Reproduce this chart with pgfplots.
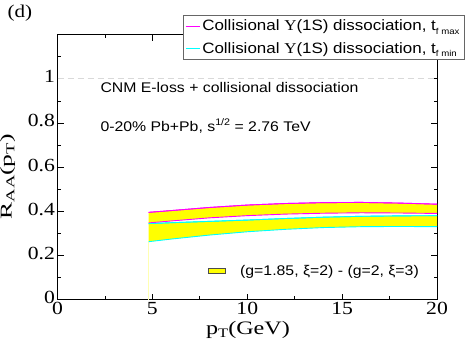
\documentclass[border=0pt]{standalone}
\usepackage{pgfplots}
\pgfplotsset{compat=1.18}
\usepgfplotslibrary{fillbetween}
\usepackage{fontspec}
\setmainfont{Liberation Serif}
\newfontfamily\sans[FakeStretch=1.13]{Liberation Sans}
\newfontfamily\ticksf[FakeStretch=1.17]{Liberation Serif}
\newfontfamily\xlabf[FakeStretch=1.27]{Liberation Serif}
\newfontfamily\ylabf[FakeStretch=1.55]{Liberation Serif}
\newfontfamily\upsf[FakeStretch=1.13]{Liberation Serif}
\definecolor{mag}{RGB}{255,0,255}
\definecolor{cy}{RGB}{0,255,255}
\definecolor{yel}{RGB}{255,255,0}
\newcommand{\legf}{\sans\fontsize{15}{17}\selectfont}
\begin{document}
\begin{tikzpicture}
\begin{axis}[
  at={(0,0)}, anchor=south west,
  scale only axis, width=379.5pt, height=264.8pt,
  xmin=0, xmax=20, ymin=0, ymax=1.2,
  xtick={0,5,10,15,20}, minor xtick={2.5,7.5,12.5,17.5},
  ytick={0,0.2,0.4,0.6,0.8,1}, minor ytick={0.1,0.3,0.5,0.7,0.9,1.1},
  tick align=inside, major tick length=6pt, minor tick length=3.5pt,
  tick style={black, line width=0.8pt},
  axis line style={line width=1pt},
  /pgf/number format/assume math mode=true,
  ticklabel style={font=\ticksf\fontsize{18.5}{18.5}\selectfont},
  xticklabel style={yshift=1pt},
  yticklabel style={/pgf/number format/fixed, /pgf/number format/precision=1, xshift=1pt, yshift=2pt},
  xlabel={\xlabf p\raisebox{-0.35ex}{\fontsize{13}{13}\selectfont T}(GeV)},
  ylabel={\ylabf R\raisebox{-0.35ex}{\fontsize{12}{12}\selectfont AA}(p\raisebox{-0.35ex}{\fontsize{12}{12}\selectfont T})},
  xlabel style={font=\fontsize{19}{19}\selectfont, at={(axis description cs:0.502,-0.115)}, anchor=center},
  ylabel style={font=\fontsize{16.5}{16.5}\selectfont, at={(axis description cs:-0.102,0.463)}, anchor=south},
  legend style={at={(axis description cs:1.072,1.074)}, anchor=north east,
    font=\legf, draw=black!60, line width=0.8pt,
    inner sep=2.5pt, row sep=6pt, cells={anchor=west}},
  legend image code/.code={\draw[#1, line width=0.8pt] (0pt,0pt) -- (14pt,0pt);},
  clip=false,
]
\addplot[mag, line width=0.9pt] coordinates {(4.8,0.395)(6,0.403)(8,0.417)(10,0.428)(12,0.435)(14,0.439)(16,0.440)(18,0.437)(20,0.432)};
\addlegendentry{\legf Collisional {\upsf Υ}(1S) dissociation, t\raisebox{-0.45ex}{\fontsize{8.5}{8.5}\selectfont f max}}
\addplot[cy, line width=0.9pt] coordinates {(4.8,0.344)(6,0.348)(8,0.354)(10,0.360)(12,0.367)(14,0.373)(16,0.377)(18,0.379)(20,0.380)};
\addlegendentry{\legf Collisional {\upsf Υ}(1S) dissociation, t\raisebox{-0.45ex}{\fontsize{8.5}{8.5}\selectfont f min}}
\addplot[draw=none, name path=mt, forget plot] coordinates {(4.8,0.395)(6,0.403)(8,0.417)(10,0.428)(12,0.435)(14,0.439)(16,0.440)(18,0.437)(20,0.432)};
\addplot[draw=none, name path=mb, forget plot] coordinates {(4.8,0.347)(6,0.356)(8,0.370)(10,0.380)(12,0.387)(14,0.391)(16,0.393)(18,0.392)(20,0.390)};
\addplot[draw=none, name path=ct, forget plot] coordinates {(4.8,0.344)(6,0.348)(8,0.354)(10,0.360)(12,0.367)(14,0.373)(16,0.377)(18,0.379)(20,0.380)};
\addplot[draw=none, name path=cb, forget plot] coordinates {(4.8,0.262)(6,0.274)(8,0.292)(10,0.307)(12,0.318)(14,0.326)(16,0.330)(18,0.331)(20,0.330)};
\addplot[yel, forget plot] fill between[of=mt and mb];
\addplot[yel, forget plot] fill between[of=ct and cb];
\addplot[yel!30, line width=0.4pt, forget plot] coordinates {(4.8,0)(4.8,0.262)};
\addplot[mag, line width=0.9pt, forget plot] coordinates {(4.8,0.395)(6,0.403)(8,0.417)(10,0.428)(12,0.435)(14,0.439)(16,0.440)(18,0.437)(20,0.432)};
\addplot[mag, line width=0.9pt, forget plot] coordinates {(4.8,0.347)(6,0.356)(8,0.370)(10,0.380)(12,0.387)(14,0.391)(16,0.393)(18,0.392)(20,0.390)};
\addplot[cy, line width=0.9pt, forget plot] coordinates {(4.8,0.344)(6,0.348)(8,0.354)(10,0.360)(12,0.367)(14,0.373)(16,0.377)(18,0.379)(20,0.380)};
\addplot[cy, line width=0.9pt, forget plot] coordinates {(4.8,0.262)(6,0.274)(8,0.292)(10,0.307)(12,0.318)(14,0.326)(16,0.330)(18,0.331)(20,0.330)};
\addplot[black!15, line width=0.8pt, dash pattern=on 6pt off 4pt, forget plot] coordinates {(0,1)(20,1)};
\node[anchor=west, font=\sans\fontsize{14}{16}\selectfont] at (axis description cs:0.104,0.8025) {CNM E-loss + collisional dissociation};
\node[anchor=west, font=\sans\fontsize{14}{16}\selectfont] at (axis description cs:0.104,0.655) {0-20\% Pb+Pb, s\raisebox{0.8ex}{\fontsize{9.5}{9.5}\selectfont 1/2} = 2.76 TeV};
\node[anchor=west, font=\sans\fontsize{14}{16}\selectfont, inner sep=0pt] at (axis description cs:0.396,0.105) {\setlength{\fboxsep}{0pt}\setlength{\fboxrule}{0.6pt}\raisebox{0.25ex}{\fcolorbox{black!70}{yel}{\rule{16pt}{0pt}\rule{0pt}{5pt}}}\hspace{15pt}(g=1.85, ξ=2) - (g=2, ξ=3)};
\node[anchor=center, font=\ticksf\fontsize{18}{18}\selectfont] at (axis description cs:-0.099,1.082) {(d)};
\end{axis}
\pgfresetboundingbox
\useasboundingbox (-57.5pt,-46.5pt) rectangle (410.5pt,299.5pt);
\end{tikzpicture}
\end{document}
